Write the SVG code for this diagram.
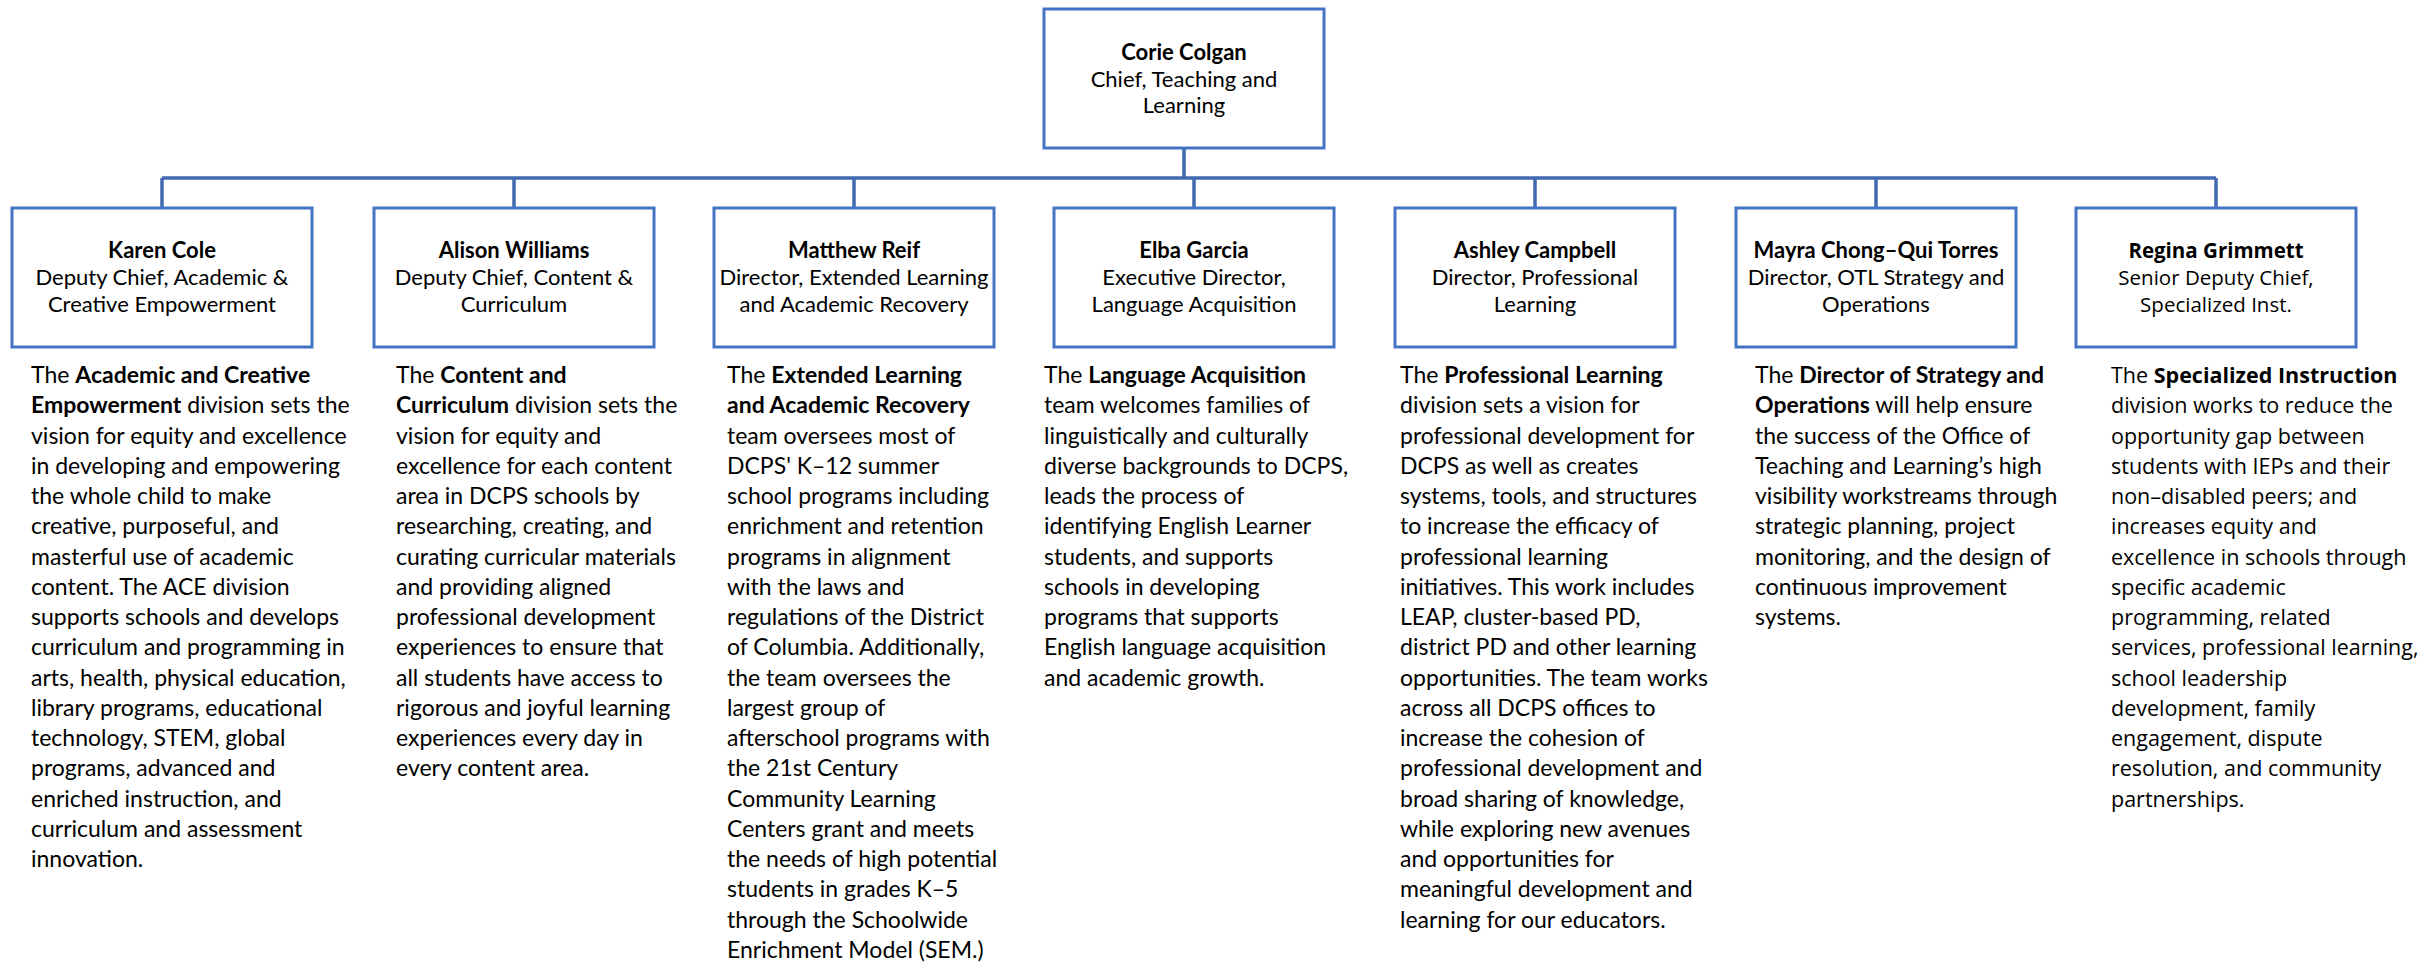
<svg xmlns="http://www.w3.org/2000/svg" width="2435" height="962" viewBox="0 0 2435 962">
<style>
.box{fill:#ffffff;stroke:#4472C4;stroke-width:3}
.conn{fill:none;stroke:#4169B0;stroke-width:3.5}
.bt{font-family:Lato,"Liberation Sans",sans-serif;font-size:22px;fill:#000;text-anchor:middle}
.bn{font-weight:bold}
.d{font-family:Lato,"Liberation Sans",sans-serif;font-size:23px;fill:#000}
.r{font-family:"Open Sans","DejaVu Sans",sans-serif;font-size:21.5px;fill:#000}
.rb{font-family:"Open Sans","DejaVu Sans",sans-serif;font-size:20.5px;fill:#000;text-anchor:middle}
.b{font-weight:bold}
</style>
<rect width="2435" height="962" fill="#ffffff"/>
<g id="connectors">
<line class="conn" x1="1184" y1="149" x2="1184" y2="178" stroke-width="4.5"/>
<line class="conn" x1="162" y1="178" x2="2216" y2="178"/>
<line class="conn" x1="162" y1="178" x2="162" y2="208"/>
<line class="conn" x1="514" y1="178" x2="514" y2="208"/>
<line class="conn" x1="854" y1="178" x2="854" y2="208"/>
<line class="conn" x1="1194" y1="178" x2="1194" y2="208"/>
<line class="conn" x1="1535" y1="178" x2="1535" y2="208"/>
<line class="conn" x1="1876" y1="178" x2="1876" y2="208"/>
<line class="conn" x1="2216" y1="178" x2="2216" y2="208"/>
</g>
<g id="corie">
<rect class="box" x="1044" y="9" width="280" height="139"/>
<text class="bt" x="1184" y="60"><tspan class="bn">Corie Colgan</tspan><tspan x="1184" y="87">Chief, Teaching and</tspan><tspan x="1184" y="113">Learning</tspan></text>
</g>
<g id="karen">
<rect class="box" x="12" y="208" width="300" height="139"/>
<text class="bt" x="162" y="258"><tspan class="bn">Karen Cole</tspan><tspan x="162" y="285">Deputy Chief, Academic &amp;</tspan><tspan x="162" y="312">Creative Empowerment</tspan></text>
<text class="d" x="31" y="383">
<tspan x="31" y="383">The <tspan class="b">Academic and Creative</tspan></tspan>
<tspan x="31" y="413.25"><tspan class="b">Empowerment</tspan> division sets the</tspan>
<tspan x="31" y="443.5">vision for equity and excellence</tspan>
<tspan x="31" y="473.75">in developing and empowering</tspan>
<tspan x="31" y="504">the whole child to make</tspan>
<tspan x="31" y="534.25">creative, purposeful, and</tspan>
<tspan x="31" y="564.5">masterful use of academic</tspan>
<tspan x="31" y="594.75">content. The ACE division</tspan>
<tspan x="31" y="625">supports schools and develops</tspan>
<tspan x="31" y="655.25">curriculum and programming in</tspan>
<tspan x="31" y="685.5">arts, health, physical education,</tspan>
<tspan x="31" y="715.75">library programs, educational</tspan>
<tspan x="31" y="746">technology, STEM, global</tspan>
<tspan x="31" y="776.25">programs, advanced and</tspan>
<tspan x="31" y="806.5">enriched instruction, and</tspan>
<tspan x="31" y="836.75">curriculum and assessment</tspan>
<tspan x="31" y="867">innovation.</tspan>
</text>
</g>
<g id="alison">
<rect class="box" x="374" y="208" width="280" height="139"/>
<text class="bt" x="514" y="258"><tspan class="bn">Alison Williams</tspan><tspan x="514" y="285">Deputy Chief, Content &amp;</tspan><tspan x="514" y="312">Curriculum</tspan></text>
<text class="d" x="396" y="383">
<tspan x="396" y="383">The <tspan class="b">Content and</tspan></tspan>
<tspan x="396" y="413.25"><tspan class="b">Curriculum</tspan> division sets the</tspan>
<tspan x="396" y="443.5">vision for equity and</tspan>
<tspan x="396" y="473.75">excellence for each content</tspan>
<tspan x="396" y="504">area in DCPS schools by</tspan>
<tspan x="396" y="534.25">researching, creating, and</tspan>
<tspan x="396" y="564.5">curating curricular materials</tspan>
<tspan x="396" y="594.75">and providing aligned</tspan>
<tspan x="396" y="625">professional development</tspan>
<tspan x="396" y="655.25">experiences to ensure that</tspan>
<tspan x="396" y="685.5">all students have access to</tspan>
<tspan x="396" y="715.75">rigorous and joyful learning</tspan>
<tspan x="396" y="746">experiences every day in</tspan>
<tspan x="396" y="776.25">every content area.</tspan>
</text>
</g>
<g id="matthew">
<rect class="box" x="714" y="208" width="280" height="139"/>
<text class="bt" x="854" y="258"><tspan class="bn">Matthew Reif</tspan><tspan x="854" y="285">Director, Extended Learning</tspan><tspan x="854" y="312">and Academic Recovery</tspan></text>
<text class="d" x="727" y="383">
<tspan x="727" y="383">The <tspan class="b">Extended Learning</tspan></tspan>
<tspan x="727" y="413.25" class="b">and Academic Recovery</tspan>
<tspan x="727" y="443.5">team oversees most of</tspan>
<tspan x="727" y="473.75">DCPS' K–12 summer</tspan>
<tspan x="727" y="504">school programs including</tspan>
<tspan x="727" y="534.25">enrichment and retention</tspan>
<tspan x="727" y="564.5">programs in alignment</tspan>
<tspan x="727" y="594.75">with the laws and</tspan>
<tspan x="727" y="625">regulations of the District</tspan>
<tspan x="727" y="655.25">of Columbia. Additionally,</tspan>
<tspan x="727" y="685.5">the team oversees the</tspan>
<tspan x="727" y="715.75">largest group of</tspan>
<tspan x="727" y="746">afterschool programs with</tspan>
<tspan x="727" y="776.25">the 21st Century</tspan>
<tspan x="727" y="806.5">Community Learning</tspan>
<tspan x="727" y="836.75">Centers grant and meets</tspan>
<tspan x="727" y="867">the needs of high potential</tspan>
<tspan x="727" y="897.25">students in grades K–5</tspan>
<tspan x="727" y="927.5">through the Schoolwide</tspan>
<tspan x="727" y="957.75">Enrichment Model (SEM.)</tspan>
</text>
</g>
<g id="elba">
<rect class="box" x="1054" y="208" width="280" height="139"/>
<text class="bt" x="1194" y="258"><tspan class="bn">Elba Garcia</tspan><tspan x="1194" y="285">Executive Director,</tspan><tspan x="1194" y="312">Language Acquisition</tspan></text>
<text class="d" x="1044" y="383">
<tspan x="1044" y="383">The <tspan class="b">Language Acquisition</tspan></tspan>
<tspan x="1044" y="413.25">team welcomes families of</tspan>
<tspan x="1044" y="443.5">linguistically and culturally</tspan>
<tspan x="1044" y="473.75">diverse backgrounds to DCPS,</tspan>
<tspan x="1044" y="504">leads the process of</tspan>
<tspan x="1044" y="534.25">identifying English Learner</tspan>
<tspan x="1044" y="564.5">students, and supports</tspan>
<tspan x="1044" y="594.75">schools in developing</tspan>
<tspan x="1044" y="625">programs that supports</tspan>
<tspan x="1044" y="655.25">English language acquisition</tspan>
<tspan x="1044" y="685.5">and academic growth.</tspan>
</text>
</g>
<g id="ashley">
<rect class="box" x="1395" y="208" width="280" height="139"/>
<text class="bt" x="1535" y="258"><tspan class="bn">Ashley Campbell</tspan><tspan x="1535" y="285">Director, Professional</tspan><tspan x="1535" y="312">Learning</tspan></text>
<text class="d" x="1400" y="383">
<tspan x="1400" y="383">The <tspan class="b">Professional Learning</tspan></tspan>
<tspan x="1400" y="413.25">division sets a vision for</tspan>
<tspan x="1400" y="443.5">professional development for</tspan>
<tspan x="1400" y="473.75">DCPS as well as creates</tspan>
<tspan x="1400" y="504">systems, tools, and structures</tspan>
<tspan x="1400" y="534.25">to increase the efficacy of</tspan>
<tspan x="1400" y="564.5">professional learning</tspan>
<tspan x="1400" y="594.75">initiatives. This work includes</tspan>
<tspan x="1400" y="625">LEAP, cluster-based PD,</tspan>
<tspan x="1400" y="655.25">district PD and other learning</tspan>
<tspan x="1400" y="685.5">opportunities. The team works</tspan>
<tspan x="1400" y="715.75">across all DCPS offices to</tspan>
<tspan x="1400" y="746">increase the cohesion of</tspan>
<tspan x="1400" y="776.25">professional development and</tspan>
<tspan x="1400" y="806.5">broad sharing of knowledge,</tspan>
<tspan x="1400" y="836.75">while exploring new avenues</tspan>
<tspan x="1400" y="867">and opportunities for</tspan>
<tspan x="1400" y="897.25">meaningful development and</tspan>
<tspan x="1400" y="927.5">learning for our educators.</tspan>
</text>
</g>
<g id="mayra">
<rect class="box" x="1736" y="208" width="280" height="139"/>
<text class="bt" x="1876" y="258"><tspan class="bn">Mayra Chong–Qui Torres</tspan><tspan x="1876" y="285">Director, OTL Strategy and</tspan><tspan x="1876" y="312">Operations</tspan></text>
<text class="d" x="1755" y="383">
<tspan x="1755" y="383">The <tspan class="b">Director of Strategy and</tspan></tspan>
<tspan x="1755" y="413.25"><tspan class="b">Operations</tspan> will help ensure</tspan>
<tspan x="1755" y="443.5">the success of the Office of</tspan>
<tspan x="1755" y="473.75">Teaching and Learning’s high</tspan>
<tspan x="1755" y="504">visibility workstreams through</tspan>
<tspan x="1755" y="534.25">strategic planning, project</tspan>
<tspan x="1755" y="564.5">monitoring, and the design of</tspan>
<tspan x="1755" y="594.75">continuous improvement</tspan>
<tspan x="1755" y="625">systems.</tspan>
</text>
</g>
<g id="regina">
<rect class="box" x="2076" y="208" width="280" height="139"/>
<text class="rb" x="2216" y="258"><tspan class="b">Regina Grimmett</tspan><tspan x="2216" y="285">Senior Deputy Chief,</tspan><tspan x="2216" y="312">Specialized Inst.</tspan></text>
<text class="r" x="2111" y="383">
<tspan x="2111" y="383">The <tspan class="b">Specialized Instruction</tspan></tspan>
<tspan x="2111" y="413.25">division works to reduce the</tspan>
<tspan x="2111" y="443.5">opportunity gap between</tspan>
<tspan x="2111" y="473.75">students with IEPs and their</tspan>
<tspan x="2111" y="504">non–disabled peers; and</tspan>
<tspan x="2111" y="534.25">increases equity and</tspan>
<tspan x="2111" y="564.5">excellence in schools through</tspan>
<tspan x="2111" y="594.75">specific academic</tspan>
<tspan x="2111" y="625">programming, related</tspan>
<tspan x="2111" y="655.25">services, professional learning,</tspan>
<tspan x="2111" y="685.5">school leadership</tspan>
<tspan x="2111" y="715.75">development, family</tspan>
<tspan x="2111" y="746">engagement, dispute</tspan>
<tspan x="2111" y="776.25">resolution, and community</tspan>
<tspan x="2111" y="806.5">partnerships.</tspan>
</text>
</g>
</svg>
